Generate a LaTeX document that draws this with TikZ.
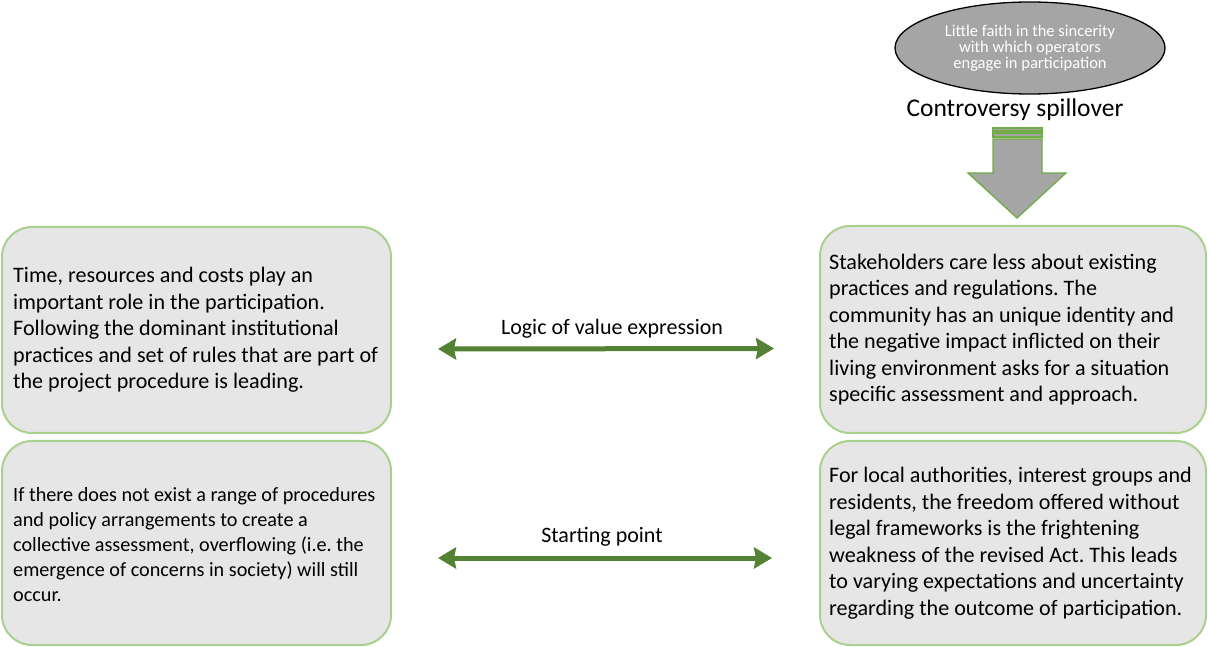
\documentclass[tikz,border=0pt]{standalone}
\usepackage{fontspec}
\setmainfont{Carlito}
\usetikzlibrary{arrows.meta,shapes.geometric}

\definecolor{boxfill}{HTML}{E7E6E6}
\definecolor{boxline}{HTML}{A9D18E}
\definecolor{arrowgreen}{HTML}{548235}
\definecolor{midgreen}{HTML}{70AD47}
\definecolor{greyfill}{HTML}{A5A5A5}

\tikzset{
  panel/.style={draw=boxline, line width=2pt, fill=boxfill, rounded corners=30pt,
    inner sep=0pt},
  paneltext/.style={anchor=west, align=left, inner sep=0pt,
    font=\fontsize{22.1}{26.5}\selectfont},
  relation/.style={draw=arrowgreen, line width=5pt,
    {Stealth[length=18pt,width=21pt,inset=2pt]}-{Stealth[length=18pt,width=21pt,inset=2pt]}},
  relationlabel/.style={font=\fontsize{22}{26}\selectfont, inner sep=0pt},
  spill/.style={draw=midgreen, line width=1.3pt, fill=greyfill}
}

\begin{document}
\frenchspacing
\begin{tikzpicture}[x=1pt,y=1pt]
\useasboundingbox (0,0) rectangle (1208,646);

% panels
\node[panel, minimum width=389pt, minimum height=206pt] (L1) at (196.5,316) {};
\node[panel, minimum width=389pt, minimum height=204pt] (L2) at (196.5,103) {};
\node[panel, minimum width=386pt, minimum height=207pt] (R1) at (1013,316.5) {};
\node[panel, minimum width=386pt, minimum height=204pt] (R2) at (1013,103) {};

% panel texts
\node[paneltext] (L1t) at ([xshift=12pt]L1.west)
  {Time, resources and costs play an\\
   important role in the participation.\\
   Following the dominant institutional\\
   practices and set of rules that are part of\\
   the project procedure is leading.};
\node[paneltext, font=\fontsize{20.2}{25}\selectfont] (L2t) at ([xshift=12pt,yshift=-2pt]L2.west)
  {If there does not exist a range of procedures\\
   and policy arrangements to create a\\
   collective assessment, overflowing (i.e. the\\
   emergence of concerns in society) will still\\
   occur.};
\node[paneltext] (R1t) at ([xshift=10pt]R1.west)
  {Stakeholders care less about existing\\
   practices and regulations. The\\
   community has an unique identity and\\
   the negative impact inflicted on their\\
   living environment asks for a situation\\
   specific assessment and approach.};
\node[paneltext] (R2t) at ([xshift=10pt]R2.west)
  {For local authorities, interest groups and\\
   residents, the freedom offered without\\
   legal frameworks is the frightening\\
   weakness of the revised Act. This leads\\
   to varying expectations and uncertainty\\
   regarding the outcome of participation.};

% relations between the columns
\draw[relation] ([shift={(46pt,-19pt)}]L1.east) -- ([shift={(-45pt,-19pt)}]R1.west);
\node[relationlabel] (lab1) at (612,317) {Logic of value expression};
\draw[relation] ([shift={(46pt,-15pt)}]L2.east) -- ([shift={(-47pt,-15pt)}]R2.west);
\node[relationlabel] (lab2) at (602,109) {Starting point};

% spillover from the top
\node[ellipse, draw=black, line width=1.3pt, fill=greyfill, text=white,
      minimum width=270pt, minimum height=92pt, inner sep=0pt, align=center,
      font=\fontsize{16.5}{16}\selectfont] (E) at (1030,598)
  {Little faith in the sincerity\\with which operators\\engage in participation};
\node[font=\fontsize{25.5}{30}\selectfont, inner sep=0pt] (CS) at (1015,536)
  {Controversy spillover};

% striped block arrow
\filldraw[spill] (993,518) rectangle (1042,515);
\filldraw[spill] (993,513) rectangle (1042,509);
\filldraw[spill] (993,507) -- (1042,507) -- (1042,473) -- (1066,473)
  -- (1017,428) -- (968,473) -- (993,473) -- cycle;
\end{tikzpicture}
\end{document}
